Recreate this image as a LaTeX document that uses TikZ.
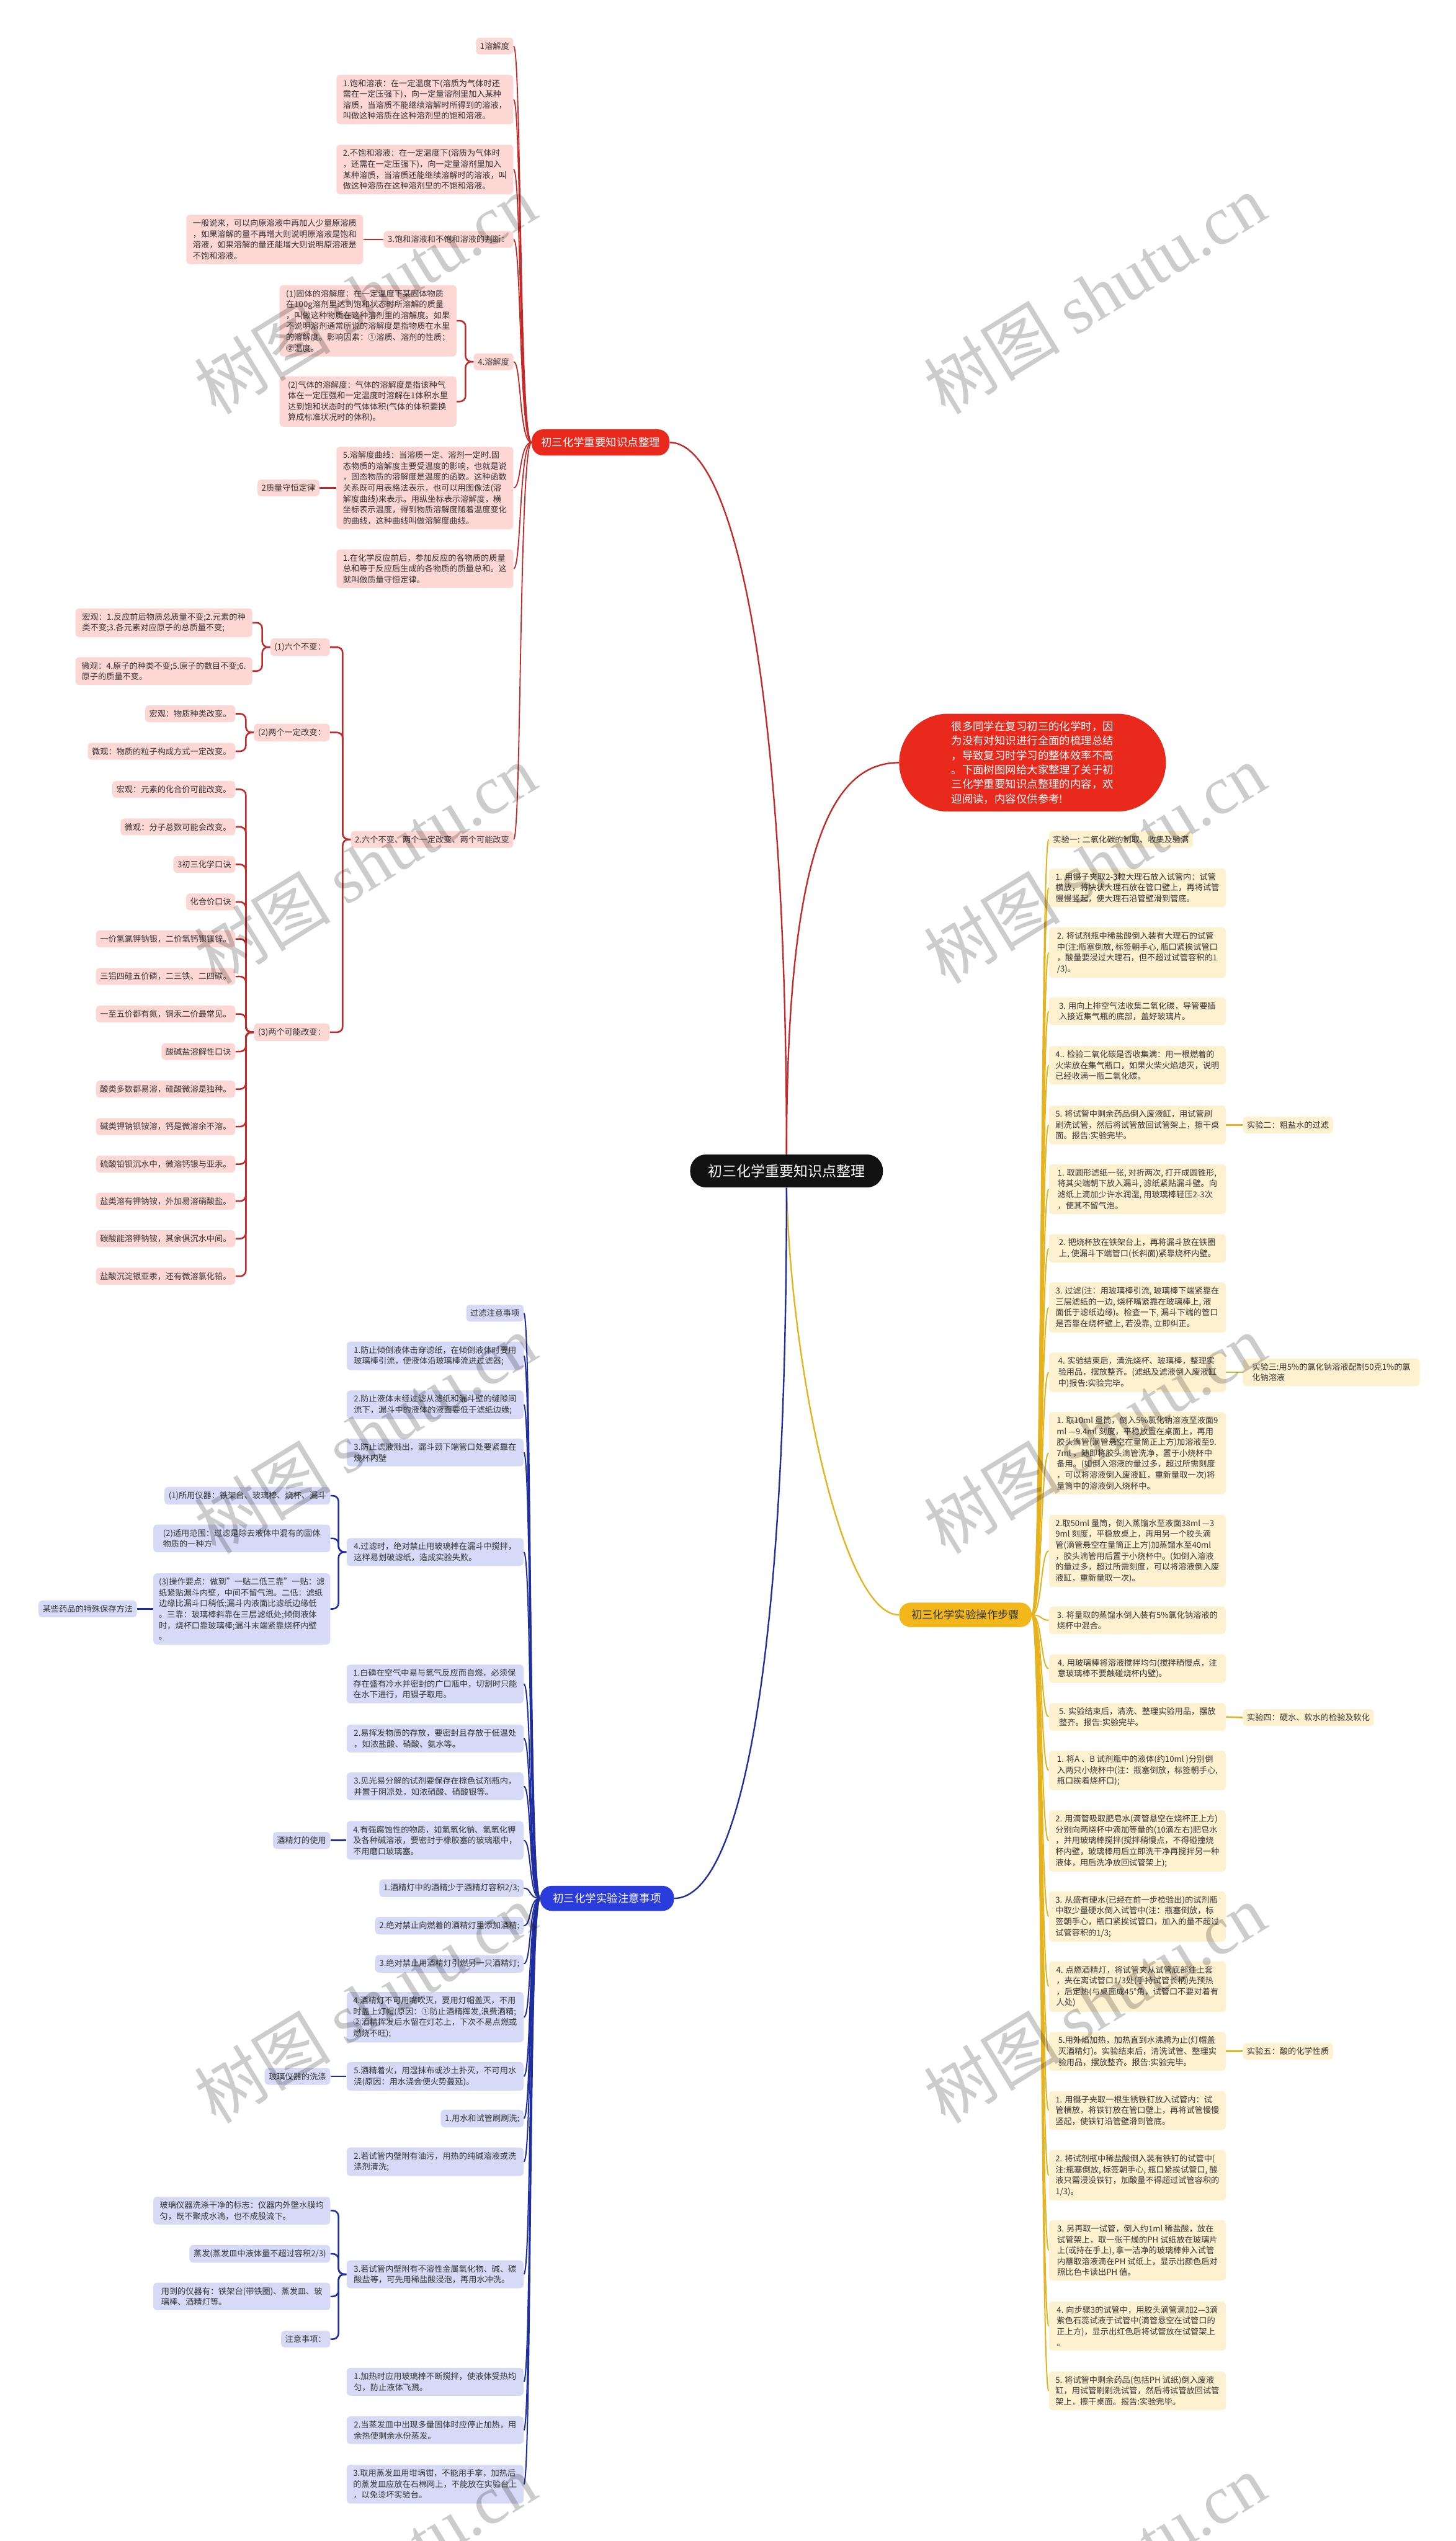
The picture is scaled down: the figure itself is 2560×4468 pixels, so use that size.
\documentclass[tikz,border=0pt]{standalone}
\usepackage{fontspec}
\setmainfont{Noto Sans CJK SC}
\newfontfamily\wmserif{Liberation Serif}
\newfontfamily\wmcjk{Noto Sans CJK SC}
\usetikzlibrary{backgrounds}
\definecolor{rf}{HTML}{FCD7D3}
\definecolor{bf}{HTML}{D6DAF7}
\definecolor{yf}{HTML}{FEF1CF}
\definecolor{rl}{HTML}{C62828}
\definecolor{bl}{HTML}{1E2DA0}
\definecolor{yl}{HTML}{E6B31E}
\definecolor{rlone}{HTML}{E8291C}
\definecolor{blone}{HTML}{2A3CDB}
\definecolor{ylone}{HTML}{F2B81B}
\definecolor{tc}{HTML}{333333}
\newcommand\rtrk[1]{\draw[rtr] (RL1.west) .. controls +(-22,0) and +(14,0) .. (#1.east);}
\newcommand\btrk[1]{\draw[btr] (BL1.west) .. controls +(-20,0) and +(14,0) .. (#1.east);}
\newcommand\ytrk[1]{\draw[ytr] (YL1.east) .. controls +(18,0) and +(-14,0) .. (#1.west);}
\newcommand\brak[3]{\draw[#1] (#2.west) -- ++(-14,0) |- (#3.east);}
\begin{document}
\begin{tikzpicture}[x=0.5pt,y=-0.5pt,
  nbox/.style={rounded corners=3pt, inner xsep=3.6pt, inner ysep=4pt, align=left, font=\fontsize{7.2}{9.6}\selectfont, text=tc},
  wide/.style={minimum width=155.5pt},
  rb/.style={nbox, fill=rf},
  bb/.style={nbox, fill=bf},
  yb/.style={nbox, fill=yf},
  le/.style={anchor=east},
  ri/.style={anchor=west},
  lone/.style={rounded corners=10pt, font=\fontsize{9.5}{11}\selectfont, inner sep=0pt},
  rtr/.style={draw=rl, line width=1pt},
  btr/.style={draw=bl, line width=1.1pt},
  ytr/.style={draw=yl, line width=1.1pt},
  rbr/.style={draw=rl, line width=1.4pt, rounded corners=5pt},
  bbr/.style={draw=bl, line width=1.4pt, rounded corners=5pt},
  ybr/.style={draw=yl, line width=1.4pt},
]
\useasboundingbox (0,0) rectangle (2560,4468);
\begin{scope}[on background layer]
\fill[white] (0,0) rectangle (2560,4468);
\end{scope}

% ---------- central ----------
\node[fill=black!93, text=white, rounded corners=14pt, minimum width=169.5pt, minimum height=29pt, inner sep=0pt, font=\fontsize{12.5}{14}\selectfont] (ROOT) at (1383,2059) {初三化学重要知识点整理};
\node[lone, fill=rlone, text=white, minimum width=121pt, minimum height=23pt] (RL1) at (1056,778) {初三化学重要知识点整理};
\node[fill=rlone, text=white, rounded corners=43pt, minimum width=234.5pt, minimum height=86pt, inner sep=0pt, align=left, font=\fontsize{9.5}{12.7}\selectfont] (BUB) at (1815.5,1341) {很多同学在复习初三的化学时，因\\为没有对知识进行全面的梳理总结\\，导致复习时学习的整体效率不高\\。下面树图网给大家整理了关于初\\三化学重要知识点整理的内容，欢\\迎阅读，内容仅供参考!};
\node[lone, fill=ylone, text=tc, minimum width=116.5pt, minimum height=21.5pt] (YL1) at (1697.5,2839.5) {初三化学实验操作步骤};
\node[lone, fill=blone, text=white, minimum width=117.5pt, minimum height=22pt] (BL1) at (1067.5,3338) {初三化学实验注意事项};

% ---------- red branch ----------
\node[rb,le] (r1) at (903,81) {1溶解度};
\node[rb,le,wide] (r2) at (903,175) {1.饱和溶液：在一定温度下(溶质为气体时还\\需在一定压强下)，向一定量溶剂里加入某种\\溶质，当溶质不能继续溶解时所得到的溶液，\\叫做这种溶质在这种溶剂里的饱和溶液。};
\node[rb,le,wide] (r3) at (903,298) {2.不饱和溶液：在一定温度下(溶质为气体时\\，还需在一定压强下)，向一定量溶剂里加入\\某种溶质，当溶质还能继续溶解时的溶液，叫\\做这种溶质在这种溶剂里的不饱和溶液。};
\node[rb,le] (r4) at (903,421) {3.饱和溶液和不饱和溶液的判断：};
\node[rb,le,wide] (r4a) at (639,421) {一般说来，可以向原溶液中再加人少量原溶质\\，如果溶解的量不再增大则说明原溶液是饱和\\溶液，如果溶解的量还能增大则说明原溶液是\\不饱和溶液。};
\node[rb,le] (r5) at (903,636) {4.溶解度};
\node[rb,le,wide] (r5a) at (803,564) {(1)固体的溶解度：在一定温度下某固体物质\\在100g溶剂里达到饱和状态时所溶解的质量\\，叫做这种物质在这种溶剂里的溶解度。如果\\不说明溶剂通常所说的溶解度是指物质在水里\\的溶解度。影响因素：①溶质、溶剂的性质；\\②温度。};
\node[rb,le,wide] (r5b) at (803,706) {(2)气体的溶解度：气体的溶解度是指该种气\\体在一定压强和一定温度时溶解在1体积水里\\达到饱和状态时的气体体积(气体的体积要换\\算成标准状况时的体积)。};
\node[rb,le,wide] (r6) at (903,858) {5.溶解度曲线：当溶质一定、溶剂一定时.固\\态物质的溶解度主要受温度的影响，也就是说\\，固态物质的溶解度是温度的函数。这种函数\\关系既可用表格法表示，也可以用图像法(溶\\解度曲线)来表示。用纵坐标表示溶解度，横\\坐标表示温度，得到物质溶解度随着温度变化\\的曲线，这种曲线叫做溶解度曲线。};
\node[rb,le] (r6a) at (562,858) {2质量守恒定律};
\node[rb,le,wide] (r7) at (903,1000) {1.在化学反应前后，参加反应的各物质的质量\\总和等于反应后生成的各物质的质量总和。这\\就叫做质量守恒定律。};
\node[rb,le] (r8) at (903,1476) {2.六个不变、两个一定改变、两个可能改变};
\node[rb,le] (r8a) at (580,1138) {(1)六个不变：};
\node[rb,le,wide] (r8a1) at (444,1095) {宏观：1.反应前后物质总质量不变;2.元素的种\\类不变;3.各元素对应原子的总质量不变;};
\node[rb,le,wide] (r8a2) at (444,1180) {微观：4.原子的种类不变;5.原子的数目不变;6.\\原子的质量不变。};
\node[rb,le] (r8b) at (580,1288) {(2)两个一定改变：};
\node[rb,le] (r8b1) at (414,1255) {宏观：物质种类改变。};
\node[rb,le] (r8b2) at (414,1321) {微观：物质的粒子构成方式一定改变。};
\node[rb,le] (r8c) at (580,1815) {(3)两个可能改变：};
\node[rb,le] (c0) at (414,1388) {宏观：元素的化合价可能改变。};
\node[rb,le] (c1) at (414,1454) {微观：分子总数可能会改变。};
\node[rb,le] (c2) at (414,1520) {3初三化学口诀};
\node[rb,le] (c3) at (414,1586) {化合价口诀};
\node[rb,le] (c4) at (414,1651) {一价氢氯钾钠银，二价氧钙钡镁锌。};
\node[rb,le] (c5) at (414,1717) {三铝四硅五价磷，二三铁、二四碳。};
\node[rb,le] (c6) at (414,1783) {一至五价都有氮，铜汞二价最常见。};
\node[rb,le] (c7) at (414,1849) {酸碱盐溶解性口诀};
\node[rb,le] (c8) at (414,1915) {酸类多数都易溶，硅酸微溶是独种。};
\node[rb,le] (c9) at (414,1981) {碱类钾钠钡铵溶，钙是微溶余不溶。};
\node[rb,le] (c10) at (414,2047) {硫酸铅钡沉水中，微溶钙银与亚汞。};
\node[rb,le] (c11) at (414,2112) {盐类溶有钾钠铵，外加易溶硝酸盐。};
\node[rb,le] (c12) at (414,2178) {碳酸能溶钾钠铵，其余俱沉水中间。};
\node[rb,le] (c13) at (414,2244) {盐酸沉淀银亚汞，还有微溶氯化铅。};

% ---------- blue branch ----------
\node[bb,le] (b1) at (921,2309) {过滤注意事项};
\node[bb,le,wide] (b2) at (921,2384) {1.防止倾倒液体击穿滤纸，在倾倒液体时要用\\玻璃棒引流，使液体沿玻璃棒流进过滤器;};
\node[bb,le,wide] (b3) at (921,2470) {2.防止液体未经过滤从滤纸和漏斗壁的缝隙间\\流下，漏斗中的液体的液面要低于滤纸边缘;};
\node[bb,le,wide] (b4) at (921,2554) {3.防止滤液溅出，漏斗颈下端管口处要紧靠在\\烧杯内壁};
\node[bb,le,wide] (b5) at (921,2729) {4.过滤时，绝对禁止用玻璃棒在漏斗中搅拌，\\这样易划破滤纸，造成实验失败。};
\node[bb,le] (b5a) at (581,2630) {(1)所用仪器：铁架台、玻璃棒、烧杯、漏斗};
\node[bb,le,wide] (b5b) at (581,2705) {(2)适用范围：过滤是除去液体中混有的固体\\物质的一种方};
\node[bb,le,wide] (b5c) at (581,2829) {(3)操作要点：做到"一贴二低三靠"一贴：滤\\纸紧贴漏斗内壁，中间不留气泡。二低：滤纸\\边缘比漏斗口稍低;漏斗内液面比滤纸边缘低\\。三靠：玻璃棒斜靠在三层滤纸处;倾倒液体\\时，烧杯口靠玻璃棒;漏斗末端紧靠烧杯内壁\\。};
\node[bb,le] (b5c1) at (241,2829) {某些药品的特殊保存方法};
\node[bb,le,wide] (b6) at (921,2961) {1.白磷在空气中易与氧气反应而自燃，必须保\\存在盛有冷水并密封的广口瓶中，切割时只能\\在水下进行，用镊子取用。};
\node[bb,le,wide] (b7) at (921,3057) {2.易挥发物质的存放，要密封且存放于低温处\\，如浓盐酸、硝酸、氨水等。};
\node[bb,le,wide] (b8) at (921,3141) {3.见光易分解的试剂要保存在棕色试剂瓶内，\\并置于阴凉处，如浓硝酸、硝酸银等。};
\node[bb,le,wide] (b9) at (921,3236) {4.有强腐蚀性的物质，如氢氧化钠、氢氧化钾\\及各种碱溶液，要密封于橡胶塞的玻璃瓶中，\\不用磨口玻璃塞。};
\node[bb,le] (b9a) at (581,3236) {酒精灯的使用};
\node[bb,le] (b10) at (921,3320) {1.酒精灯中的酒精少于酒精灯容积2/3;};
\node[bb,le] (b11) at (921,3386) {2.绝对禁止向燃着的酒精灯里添加酒精;};
\node[bb,le] (b12) at (921,3453) {3.绝对禁止用酒精灯引燃另一只酒精灯;};
\node[bb,le,wide] (b13) at (921,3547) {4.酒精灯不可用嘴吹灭，要用灯帽盖灭，不用\\时盖上灯帽(原因：①防止酒精挥发,浪费酒精;\\②酒精挥发后水留在灯芯上，下次不易点燃或\\燃烧不旺);};
\node[bb,le,wide] (b14) at (921,3651) {5.酒精着火，用湿抹布或沙土扑灭，不可用水\\浇(原因：用水浇会使火势蔓延)。};
\node[bb,le] (b14a) at (581,3651) {玻璃仪器的洗涤};
\node[bb,le] (b15) at (921,3725) {1.用水和试管刷刷洗;};
\node[bb,le,wide] (b16) at (921,3801) {2.若试管内壁附有油污，用热的纯碱溶液或洗\\涤剂清洗;};
\node[bb,le,wide] (b17) at (921,3999) {3.若试管内壁附有不溶性金属氧化物、碱、碳\\酸盐等，可先用稀盐酸浸泡，再用水冲洗。};
\node[bb,le,wide] (b17a) at (581,3887) {玻璃仪器洗涤干净的标志：仪器内外壁水膜均\\匀，既不聚成水滴，也不成股流下。};
\node[bb,le] (b17b) at (581,3963) {蒸发(蒸发皿中液体量不超过容积2/3)};
\node[bb,le,wide] (b17c) at (581,4038) {用到的仪器有：铁架台(带铁圈)、蒸发皿、玻\\璃棒、酒精灯等。};
\node[bb,le] (b17d) at (581,4113) {注意事项：};
\node[bb,le,wide] (b18) at (921,4188) {1.加热时应用玻璃棒不断搅拌，使液体受热均\\匀，防止液体飞溅。};
\node[bb,le,wide] (b19) at (921,4273) {2.当蒸发皿中出现多量固体时应停止加热，用\\余热使剩余水份蒸发。};
\node[bb,le,wide] (b20) at (921,4368) {3.取用蒸发皿用坩埚钳，不能用手拿，加热后\\的蒸发皿应放在石棉网上，不能放在实验台上\\，以免烫坏实验台。};

% ---------- yellow branch ----------
\node[yb,ri] (y1) at (1844,1476) {实验一: 二氧化碳的制取、收集及验满};
\node[yb,ri,wide] (y2) at (1844,1561) {1. 用镊子夹取2-3粒大理石放入试管内：试管\\横放，将块状大理石放在管口壁上，再将试管\\慢慢竖起，使大理石沿管壁滑到管底。};
\node[yb,ri,wide] (y3) at (1844,1675) {2. 将试剂瓶中稀盐酸倒入装有大理石的试管\\中(注:瓶塞倒放, 标签朝手心, 瓶口紧挨试管口\\，酸量要浸过大理石，但不超过试管容积的1\\/3)。};
\node[yb,ri,wide] (y4) at (1844,1778) {3. 用向上排空气法收集二氧化碳，导管要插\\入接近集气瓶的底部，盖好玻璃片。};
\node[yb,ri,wide] (y5) at (1844,1873) {4.. 检验二氧化碳是否收集满：用一根燃着的\\火柴放在集气瓶口，如果火柴火焰熄灭，说明\\已经收满一瓶二氧化碳。};
\node[yb,ri,wide] (y6) at (1844,1978) {5. 将试管中剩余药品倒入废液缸，用试管刷\\刷洗试管，然后将试管放回试管架上，擦干桌\\面。报告:实验完毕。};
\node[yb,ri] (e2) at (2185,1978) {实验二：粗盐水的过滤};
\node[yb,ri,wide] (y7) at (1844,2091) {1. 取圆形滤纸一张, 对折两次, 打开成圆锥形,\\将其尖端朝下放入漏斗, 滤纸紧贴漏斗壁。向\\滤纸上滴加少许水润湿, 用玻璃棒轻压2-3次\\，使其不留气泡。};
\node[yb,ri,wide] (y8) at (1844,2195) {2. 把烧杯放在铁架台上，再将漏斗放在铁圈\\上, 使漏斗下端管口(长斜面)紧靠烧杯内壁。};
\node[yb,ri,wide] (y9) at (1844,2299) {3. 过滤(注：用玻璃棒引流, 玻璃棒下端紧靠在\\三层滤纸的一边, 烧杯嘴紧靠在玻璃棒上, 液\\面低于滤纸边缘)。检查一下, 漏斗下端的管口\\是否靠在烧杯壁上, 若没靠, 立即纠正。};
\node[yb,ri,wide] (y10) at (1844,2413) {4. 实验结束后，清洗烧杯、玻璃棒，整理实\\验用品，摆放整齐。(滤纸及滤液倒入废液缸\\中)报告:实验完毕。};
\node[yb,ri,wide] (e3) at (2185,2413) {实验三:用5\%的氯化钠溶液配制50克1\%的氯\\化钠溶液};
\node[yb,ri,wide] (y11) at (1844,2555) {1. 取10ml 量筒，倒入5\%氯化钠溶液至液面9\\ml —9.4ml 刻度，平稳放置在桌面上，再用\\胶头滴管(滴管悬空在量筒正上方)加溶液至9.\\7ml ，随即将胶头滴管洗净，置于小烧杯中\\备用。(如倒入溶液的量过多，超过所需刻度\\，可以将溶液倒入废液缸，重新量取一次)将\\量筒中的溶液倒入烧杯中。};
\node[yb,ri,wide] (y12) at (1844,2727) {2.取50ml 量筒，倒入蒸馏水至液面38ml —3\\9ml 刻度，平稳放桌上，再用另一个胶头滴\\管(滴管悬空在量筒正上方)加蒸馏水至40ml\\，胶头滴管用后置于小烧杯中。(如倒入溶液\\的量过多，超过所需刻度，可以将溶液倒入废\\液缸，重新量取一次)。};
\node[yb,ri,wide] (y13) at (1844,2849) {3. 将量取的蒸馏水倒入装有5\%氯化钠溶液的\\烧杯中混合。};
\node[yb,ri,wide] (y14) at (1844,2934) {4. 用玻璃棒将溶液搅拌均匀(搅拌稍慢点，注\\意玻璃棒不要触碰烧杯内壁)。};
\node[yb,ri,wide] (y15) at (1844,3019) {5. 实验结束后，清洗、整理实验用品，摆放\\整齐。报告:实验完毕。};
\node[yb,ri] (e4) at (2185,3020) {实验四：硬水、软水的检验及软化};
\node[yb,ri,wide] (y16) at (1844,3113) {1. 将A 、B 试剂瓶中的液体(约10ml )分别倒\\入两只小烧杯中(注：瓶塞倒放，标签朝手心,\\瓶口挨着烧杯口);};
\node[yb,ri,wide] (y17) at (1844,3237) {2. 用滴管吸取肥皂水(滴管悬空在烧杯正上方)\\分别向两烧杯中滴加等量的(10滴左右)肥皂水\\，并用玻璃棒搅拌(搅拌稍慢点，不得碰撞烧\\杯内壁，玻璃棒用后立即洗干净再搅拌另一种\\液体，用后洗净放回试管架上);};
\node[yb,ri,wide] (y18) at (1844,3370) {3. 从盛有硬水(已经在前一步检验出)的试剂瓶\\中取少量硬水倒入试管中(注：瓶塞倒放，标\\签朝手心，瓶口紧挨试管口，加入的量不超过\\试管容积的1/3;};
\node[yb,ri,wide] (y19) at (1844,3493) {4. 点燃酒精灯，将试管夹从试管底部往上套\\，夹在离试管口1/3处(手持试管长柄)先预热\\，后定热(与桌面成45°角，试管口不要对着有\\人处)};
\node[yb,ri,wide] (y20) at (1844,3607) {5.用外焰加热，加热直到水沸腾为止(灯帽盖\\灭酒精灯)。实验结束后，清洗试管、整理实\\验用品，摆放整齐。报告:实验完毕。};
\node[yb,ri] (e5) at (2185,3607) {实验五：酸的化学性质};
\node[yb,ri,wide] (y21) at (1844,3711) {1. 用镊子夹取一根生锈铁钉放入试管内：试\\管横放，将铁钉放在管口壁上，再将试管慢慢\\竖起，使铁钉沿管壁滑到管底。};
\node[yb,ri,wide] (y22) at (1844,3825) {2. 将试剂瓶中稀盐酸倒入装有铁钉的试管中(\\注:瓶塞倒放, 标签朝手心, 瓶口紧挨试管口, 酸\\液只需浸没铁钉，加酸量不得超过试管容积的\\1/3)。};
\node[yb,ri,wide] (y23) at (1844,3957) {3. 另再取一试管，倒入约1ml 稀盐酸，放在\\试管架上，取一张干燥的PH 试纸放在玻璃片\\上(或持在手上), 拿一洁净的玻璃棒伸入试管\\内蘸取溶液滴在PH 试纸上，显示出颜色后对\\照比色卡读出PH 值。};
\node[yb,ri,wide] (y24) at (1844,4090) {4. 向步骤3的试管中，用胶头滴管滴加2—3滴\\紫色石蕊试液于试管中(滴管悬空在试管口的\\正上方)，显示出红色后将试管放在试管架上\\。};
\node[yb,ri,wide] (y25) at (1844,4204) {5. 将试管中剩余药品(包括PH 试纸)倒入废液\\缸，用试管刷刷洗试管，然后将试管放回试管\\架上，擦干桌面。报告:实验完毕。};

% ---------- connectors ----------
\begin{scope}[on background layer]
\draw[rl, line width=1.3pt] (ROOT.north) .. controls (1383,1200) and (1290,778) .. (RL1.east);
\draw[rl, line width=1.3pt] (ROOT.north) .. controls (1383,1500) and (1460,1341) .. (BUB.west);
\draw[yl, line width=1.3pt] (ROOT.south) .. controls (1390,2400) and (1480,2840) .. (YL1.west);
\draw[bl, line width=1.3pt] (ROOT.south) .. controls (1383,3000) and (1290,3338) .. (BL1.east);
\foreach \n in {r1,r2,r3,r4,r5,r6,r7,r8} {\rtrk{\n}}
\draw[rbr] (r4.west) -- (r4a.east);
\draw[rbr] (r6.west) -- (r6a.east);
\brak{rbr}{r5}{r5a}
\brak{rbr}{r5}{r5b}
\brak{rbr}{r8}{r8a}
\brak{rbr}{r8}{r8b}
\brak{rbr}{r8}{r8c}
\brak{rbr}{r8a}{r8a1}
\brak{rbr}{r8a}{r8a2}
\brak{rbr}{r8b}{r8b1}
\brak{rbr}{r8b}{r8b2}
\foreach \i in {0,...,13} {\brak{rbr}{r8c}{c\i}}
\foreach \n in {b1,b2,b3,b4,b5,b6,b7,b8,b9,b10,b11,b12,b13,b14,b15,b16,b17,b18,b19,b20} {\btrk{\n}}
\brak{bbr}{b5}{b5a}
\brak{bbr}{b5}{b5b}
\brak{bbr}{b5}{b5c}
\draw[bbr] (b5c.west) -- (b5c1.east);
\draw[bbr] (b9.west) -- (b9a.east);
\draw[bbr] (b14.west) -- (b14a.east);
\brak{bbr}{b17}{b17a}
\brak{bbr}{b17}{b17b}
\brak{bbr}{b17}{b17c}
\brak{bbr}{b17}{b17d}
\foreach \i in {1,...,25} {\ytrk{y\i}}
\draw[ybr] (y6.east) -- (e2.west);
\draw[ybr] (y10.east) -- (e3.west);
\draw[ybr] (y15.east) -- (e4.west);
\draw[ybr] (y20.east) -- (e5.west);
\end{scope}

% ---------- watermark ----------
\foreach \yy in {517,1519,2521,3523,4525} {
  \foreach \xx in {642,1925} {
    \node[rotate=31.5, opacity=0.2, text=black, inner sep=0pt, font=\fontsize{60}{60}\selectfont] (wm) at (\xx,\yy) {{\wmcjk 树图} {\wmserif shutu.cn}};
  }
}
\end{tikzpicture}
\end{document}
